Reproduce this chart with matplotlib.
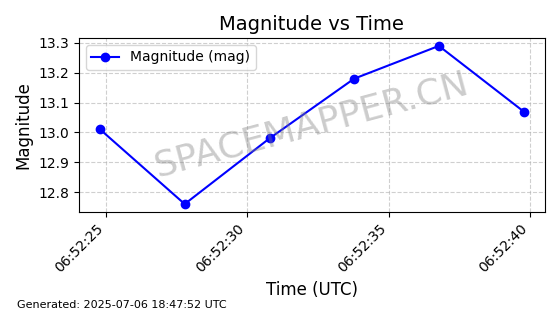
import pandas as pd
import matplotlib
matplotlib.use("Agg")
import matplotlib.pyplot as plt
import matplotlib.dates as mdates

# data
times = ["06:52:24.79", "06:52:27.78", "06:52:30.78",
         "06:52:33.77", "06:52:36.77", "06:52:39.77"]
magnitude = [13.01, 12.76, 12.98, 13.18, 13.29, 13.07]

t = pd.to_datetime(["2025-07-06 " + s for s in times])

fig, ax = plt.subplots(figsize=(5.6, 3.14), dpi=100)
fig.subplots_adjust(left=0.141, right=0.973, top=0.879, bottom=0.325)

ax.plot(t, magnitude, "o-", color="blue", label="Magnitude (mag)")

ax.xaxis.set_major_locator(mdates.SecondLocator(bysecond=range(0, 60, 5)))
ax.xaxis.set_major_formatter(mdates.DateFormatter("%H:%M:%S"))
plt.setp(ax.get_xticklabels(), rotation=45, ha="right")

ax.set_title("Magnitude vs Time", fontsize=14)
ax.set_xlabel("Time (UTC)", fontsize=12)
ax.set_ylabel("Magnitude", fontsize=12)
ax.grid(True, linestyle="--", alpha=0.6)
ax.legend(loc="upper left")

ax.text(0.5, 0.5, "SPACEMAPPER.CN", transform=ax.transAxes,
        fontsize=26, color="gray", alpha=0.4, rotation=15,
        ha="center", va="center")

fig.text(0.03, 0.02, "Generated: 2025-07-06 18:47:52 UTC", fontsize=8)

fig.savefig("out.png")
